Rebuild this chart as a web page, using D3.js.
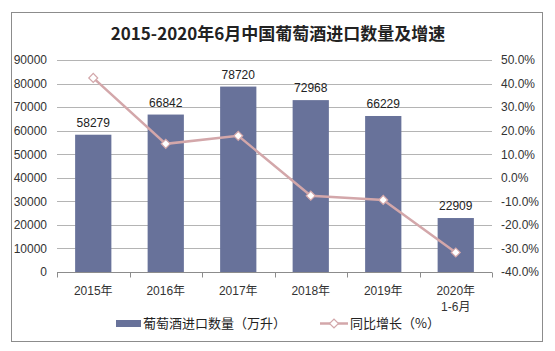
<!DOCTYPE html>
<html>
<head>
<meta charset="utf-8">
<script src="https://cdn.jsdelivr.net/npm/d3@7"></script>
<style>
  body { margin: 0; background: #fff; }
  svg { display: block; }
</style>
</head>
<body>
<div id="chart"></div>
<script>
const years = ["2015年", "2016年", "2017年", "2018年", "2019年", "2020年\n1-6月"];
const volume = [58279, 66842, 78720, 72968, 66229, 22909];
const growth = [42.4, 14.4, 17.8, -7.6, -9.4, -31.7];
const leftTicks = [0, 10000, 20000, 30000, 40000, 50000, 60000, 70000, 80000, 90000];
const rightTicks = [-40, -30, -20, -10, 0, 10, 20, 30, 40, 50];

const W = 555, H = 351;
const margin = { top: 60, right: 63, bottom: 79, left: 57 };
const font = "'Liberation Sans', Arial, 'Noto Sans CJK SC', sans-serif";

const svg = d3.select("#chart").append("svg")
    .attr("width", W)
    .attr("height", H);

// outer frame
svg.append("rect")
    .attr("x", 11.5).attr("y", 12.5)
    .attr("width", 531).attr("height", 329)
    .attr("fill", "none").attr("stroke", "#8c8c8c");

svg.append("text")
    .attr("x", 278).attr("y", 40)
    .attr("text-anchor", "middle")
    .attr("font-family", "'Noto Sans CJK SC', sans-serif")
    .attr("font-weight", "bold")
    .attr("font-size", 17)
    .attr("fill", "#222")
    .text("2015-2020年6月中国葡萄酒进口数量及增速");

const x = d3.scaleBand()
    .domain(years)
    .range([margin.left, W - margin.right])
    .paddingInner(0.5).paddingOuter(0.25);

const y = d3.scaleLinear().domain([0, 90000]).range([H - margin.bottom, margin.top]);
const y2 = d3.scaleLinear().domain([-40, 50]).range([H - margin.bottom, margin.top]);

// gridlines
svg.append("g")
    .selectAll("line")
    .data(leftTicks.slice(1))
    .enter().append("line")
    .attr("x1", margin.left).attr("x2", W - margin.right)
    .attr("y1", d => Math.round(y(d)) + 0.5).attr("y2", d => Math.round(y(d)) + 0.5)
    .attr("stroke", "#b4b4b4");

// left axis
const yAxis = d3.axisLeft(y).tickValues(leftTicks).tickSize(0).tickPadding(10)
    .tickFormat(d3.format("d"));
const gy = svg.append("g")
    .attr("transform", `translate(${margin.left},0)`)
    .call(yAxis);
gy.select(".domain").remove();
gy.selectAll("text").attr("font-family", font).attr("font-size", 12).attr("fill", "#333");

// right axis
const yAxis2 = d3.axisRight(y2).tickValues(rightTicks).tickSize(0).tickPadding(9)
    .tickFormat(d => d.toFixed(1) + "%");
const gy2 = svg.append("g")
    .attr("transform", `translate(${W - margin.right},0)`)
    .call(yAxis2);
gy2.select(".domain").remove();
gy2.selectAll("text").attr("font-family", font).attr("font-size", 12).attr("fill", "#333");

// bars
svg.append("g")
    .selectAll("rect")
    .data(volume)
    .enter().append("rect")
    .attr("x", (d, i) => x(years[i]))
    .attr("width", x.bandwidth())
    .attr("y", d => y(d))
    .attr("height", d => y(0) - y(d))
    .attr("fill", "#68729a");

svg.append("g")
    .selectAll("text")
    .data(volume)
    .enter().append("text")
    .attr("x", (d, i) => x(years[i]) + x.bandwidth() / 2)
    .attr("y", d => y(d) - 8)
    .attr("text-anchor", "middle")
    .attr("font-family", font)
    .attr("font-size", 12)
    .attr("fill", "#222")
    .text(d => d);

// x axis
const base = Math.round(y(0)) + 0.5;
const step = x.step();
svg.append("line")
    .attr("x1", margin.left).attr("x2", W - margin.right)
    .attr("y1", base).attr("y2", base)
    .attr("stroke", "#8c8c8c");
svg.append("g")
    .selectAll("line")
    .data(d3.range(years.length + 1))
    .enter().append("line")
    .attr("x1", i => Math.round(margin.left + i * step) + 0.5)
    .attr("x2", i => Math.round(margin.left + i * step) + 0.5)
    .attr("y1", base).attr("y2", base + 5)
    .attr("stroke", "#8c8c8c");

const xl = svg.append("g")
    .selectAll("text")
    .data(years)
    .enter().append("text")
    .attr("x", d => x(d) + x.bandwidth() / 2)
    .attr("y", base + 22)
    .attr("text-anchor", "middle")
    .attr("font-family", font)
    .attr("font-size", 12)
    .attr("fill", "#333");
xl.selectAll("tspan")
    .data(d => d.split("\n").map(s => ({ s, x: x(d) + x.bandwidth() / 2 })))
    .enter().append("tspan")
    .attr("x", d => d.x)
    .attr("dy", (d, i) => i ? 16 : 0)
    .text(d => d.s);

// growth line
const cx = i => x(years[i]) + x.bandwidth() / 2;
const line = d3.line().x((d, i) => cx(i)).y(d => y2(d));
svg.append("path")
    .datum(growth)
    .attr("d", line)
    .attr("fill", "none")
    .attr("stroke", "#d3a7aa")
    .attr("stroke-width", 2.5);

svg.append("g")
    .selectAll("path")
    .data(growth)
    .enter().append("path")
    .attr("transform", (d, i) => `translate(${cx(i)},${y2(d)}) rotate(45)`)
    .attr("d", d3.symbol().type(d3.symbolSquare).size(40))
    .attr("fill", "#fff")
    .attr("stroke", "#d3a7aa")
    .attr("stroke-width", 1.2);

// legend
const lg = svg.append("g").attr("font-family", "'Noto Sans CJK SC', sans-serif").attr("font-size", 13).attr("fill", "#222");
lg.append("rect")
    .attr("x", 116).attr("y", 320).attr("width", 25).attr("height", 7)
    .attr("fill", "#68729a");
lg.append("text").attr("x", 143).attr("y", 328).text("葡萄酒进口数量（万升）");
lg.append("line")
    .attr("x1", 320).attr("x2", 348).attr("y1", 323.5).attr("y2", 323.5)
    .attr("stroke", "#d3a7aa").attr("stroke-width", 2.5);
lg.append("path")
    .attr("transform", "translate(334,323.5) rotate(45)")
    .attr("d", d3.symbol().type(d3.symbolSquare).size(40))
    .attr("fill", "#fff").attr("stroke", "#d3a7aa").attr("stroke-width", 1.2);
lg.append("text").attr("x", 350).attr("y", 328).text("同比增长（%）");
</script>
</body>
</html>
